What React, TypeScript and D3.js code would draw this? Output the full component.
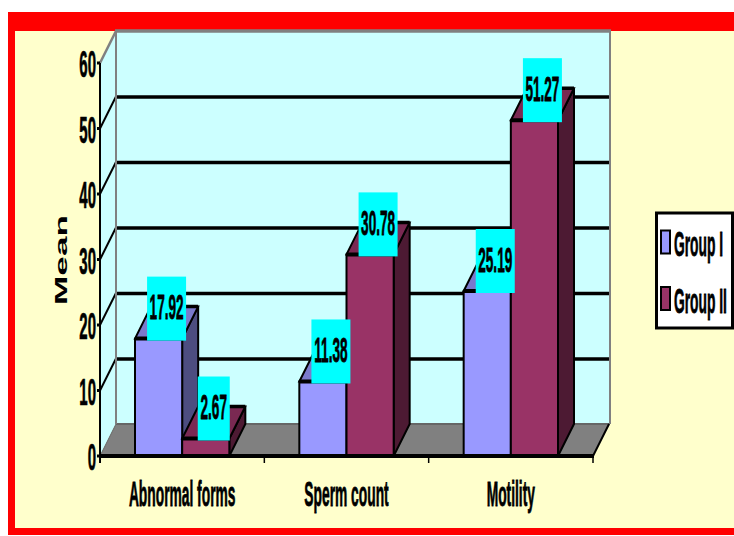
import * as d3 from "d3";

const categories = ["Abnormal forms", "Sperm count", "Motility"];
const groups = ["Group I", "Group II"];
const groupOne = [17.92, 11.38, 25.19];
const groupTwo = [2.67, 30.78, 51.27];
const yTicks = [0, 10, 20, 30, 40, 50, 60];

const frontColors = ["#9999ff", "#993366"];
const topColors = ["#7a7acc", "#7a2952"];
const sideColors = ["#4d4d80", "#4d1a33"];

// depth of the 3d box, back wall sits up and right of the front
const dx = 16;
const dy = -32;
const font = "'Liberation Sans', Arial, sans-serif";

const y = d3.scaleLinear().domain([0, 60]).range([456, 63]);
const x0 = d3.scaleBand().domain(categories).range([100, 593]);
const x1 = d3
  .scaleBand()
  .domain(groups)
  .range([35, x0.bandwidth() - 35]);

function Squeezed({ x, y, size, sy, anchor, children }: any) {
  return (
    <text
      transform={`translate(${x},${y}) scale(1,${sy})`}
      fontFamily={font}
      fontWeight="bold"
      fontSize={size}
      textAnchor={anchor || "middle"}
      dy="0.36em"
      fill="#000"
      stroke="#000"
      strokeWidth={0.3}
    >
      {children}
    </text>
  );
}

const poly = (pts: number[][]) => pts.map((p) => p.join(",")).join(" ");

export default function App() {
  const series = [groupOne, groupTwo];
  const left = x0.range()[0];
  const right = x0.range()[1];
  const base = y(0);
  const top = y(60);

  return (
    <svg
      width={734}
      height={536}
      style={{ position: "fixed", left: 0, top: 0, background: "#fff" }}
    >
      <rect x={8} y={12} width={726} height={523} fill="#ff0000" />
      <rect x={15} y={31} width={719} height={497} fill="#ffffcc" />

      {/* walls */}
      <polygon
        points={poly([[left, top], [left + dx, top + dy], [left + dx, base + dy], [left, base]])}
        fill="#ccffff"
      />
      <rect x={left + dx} y={top + dy} width={right - left + 1} height={base - top} fill="#ccffff" />
      <polygon
        points={poly([[left, base], [left + dx, base + dy], [right + dx + 1, base + dy], [right, base]])}
        fill="#808080"
      />
      <line x1={left + dx} x2={right + dx + 1} y1={base + dy} y2={base + dy} stroke="#666" strokeWidth={2} />

      {/* gridlines */}
      {yTicks.slice(1, -1).map((t) => (
        <g key={t}>
          <line x1={left} y1={y(t)} x2={left + dx} y2={y(t) + dy} stroke="#000" strokeWidth={2} />
          <line x1={left + dx} x2={right + dx} y1={y(t) + dy + 0.6} y2={y(t) + dy + 0.6} stroke="#000" strokeWidth={3.5} />
        </g>
      ))}
      <line x1={left + dx} x2={left + dx} y1={top + dy} y2={base + dy} stroke="#808080" strokeWidth={2} />
      <line x1={right + dx + 1} x2={right + dx + 1} y1={top + dy} y2={base + dy} stroke="#808080" strokeWidth={2} />
      <line x1={left} y1={top} x2={left + dx} y2={top + dy} stroke="#808080" strokeWidth={2.5} />
      <line x1={left + dx - 1} x2={right + dx + 2} y1={top + dy} y2={top + dy} stroke="#808080" strokeWidth={3.5} />
      <line x1={left} y1={base} x2={left + dx} y2={base + dy} stroke="#666" strokeWidth={1} />
      <line x1={right} y1={base} x2={right + dx} y2={base + dy} stroke="#000" strokeWidth={2} />

      {/* bars */}
      {categories.map((c, i) =>
        groups.map((g, j) => {
          const a = x0(c)! + x1(g)!;
          const b = a + x1.bandwidth();
          const t = y(series[j][i]);
          return (
            <g key={g + c} stroke="#000" strokeWidth={2} strokeLinejoin="miter">
              <polygon
                points={poly([[b, t], [b + dx, t + dy], [b + dx, base + dy], [b, base]])}
                fill={sideColors[j]}
              />
              <polygon
                points={poly([[a, t], [a + dx, t + dy], [b + dx, t + dy], [b, t]])}
                fill={topColors[j]}
              />
              <rect x={a} y={t} width={b - a} height={base - t} fill={frontColors[j]} />
              <line x1={a} x2={b} y1={t} y2={t} strokeWidth={4} />
              <line x1={a + dx} x2={b + dx} y1={t + dy} y2={t + dy} strokeWidth={3.5} />
            </g>
          );
        })
      )}

      {/* axes */}
      <line x1={left} x2={left} y1={top} y2={base + 7} stroke="#000" strokeWidth={2} />
      <line x1={left - 1} x2={right + 1} y1={base} y2={base} stroke="#000" strokeWidth={4} />
      {x0.domain().map((c) => (
        <line key={c} x1={x0(c)! + x0.bandwidth()} x2={x0(c)! + x0.bandwidth()} y1={base} y2={base + 7} stroke="#000" strokeWidth={1.5} />
      ))}
      {yTicks.map((t) => (
        <g key={t}>
          <line x1={left - 3} x2={left} y1={y(t)} y2={y(t)} stroke="#000" strokeWidth={3} />
          <Squeezed x={96} y={y(t) + 1} size={15} sy={2.45} anchor="end">
            {t}
          </Squeezed>
        </g>
      ))}
      {categories.map((c) => (
        <Squeezed key={c} x={x0(c)! + x0.bandwidth() / 2} y={493} size={13.8} sy={2.55}>
          {c}
        </Squeezed>
      ))}
      <text
        transform="translate(61,260) rotate(-90) scale(2.2,1)"
        fontFamily={font}
        fontWeight="bold"
        fontSize={16}
        textAnchor="middle"
        dy="0.36em"
      >
        Mean
      </text>

      {/* value labels */}
      {categories.map((c, i) =>
        groups.map((g, j) => {
          const v = series[j][i];
          const cx = x0(c)! + x1(g)! + x1.bandwidth() / 2 + dx / 2;
          const t = y(v);
          const w = v < 10 ? 32 : 39;
          return (
            <g key={g + c}>
              <rect x={cx - w / 2} y={t - 62} width={w} height={64} fill="#00ffff" />
              <Squeezed x={cx} y={t - 32} size={13.6} sy={2.6}>
                {v}
              </Squeezed>
            </g>
          );
        })
      )}

      {/* legend */}
      <rect x={656.5} y={213} width={76} height={115} fill="#fff" stroke="#000" strokeWidth={3} />
      {groups.map((g, j) => (
        <g key={g}>
          <rect x={661} y={230.5 + j * 56.5} width={9} height={23} fill={frontColors[j]} stroke="#000" strokeWidth={2} />
          <Squeezed x={674} y={243 + j * 57} size={13.8} sy={2.55} anchor="start">
            {g}
          </Squeezed>
        </g>
      ))}
    </svg>
  );
}
